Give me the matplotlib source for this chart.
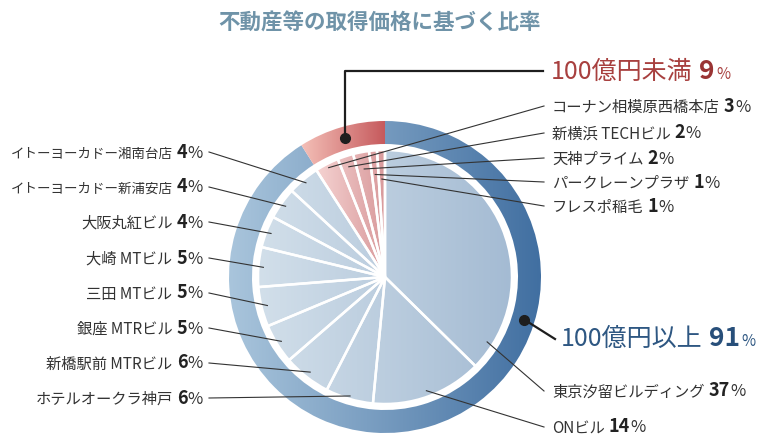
import numpy as np
import matplotlib
matplotlib.use('Agg')
import matplotlib.pyplot as plt
from matplotlib.colors import LinearSegmentedColormap

plt.rcParams['font.family'] = ['Noto Sans CJK JP', 'DejaVu Sans']

### data
title = '不動産等の取得価格に基づく比率'
group_names = ['100億円以上', '100億円未満']
group_pct = [91, 9]

big_names = ['東京汐留ビルディング', 'ONビル', 'ホテルオークラ神戸', '新橋駅前 MTRビル',
             '銀座 MTRビル', '三田 MTビル', '大崎 MTビル', '大阪丸紅ビル',
             'イトーヨーカドー新浦安店', 'イトーヨーカドー湘南台店']
big_pct = [37, 14, 6, 6, 5, 5, 5, 4, 4, 4]

small_names = ['コーナン相模原西橋本店', '新横浜 TECHビル', '天神プライム',
               'パークレーンプラザ', 'フレスポ稲毛']
small_pct = [3, 2, 2, 1, 1]

### layout (pixels, y down)
W, H = 766, 438
cx, cy = 385, 277
R_in, R_out, ring_w = 127, 156, 23

fig = plt.figure(figsize=(W / 100, H / 100), dpi=100)
ax = fig.add_axes([0, 0, 1, 1])
grad = np.linspace(0, 1, 256).reshape(1, -1)


def gradient_fill(wedges, c_left, c_right, x0, x1):
    cmap = LinearSegmentedColormap.from_list('g', [c_left, c_right])
    for w in wedges:
        w.set_facecolor('none')
        im = ax.imshow(grad, cmap=cmap, extent=(x0, x1, cy + R_out, cy - R_out),
                       aspect='auto', interpolation='bilinear', zorder=1)
        im.set_clip_path(w)


def anchor(w, frac, r):
    th = np.radians(w.theta1 + frac * (w.theta2 - w.theta1))
    return cx + r * np.cos(th), cy + r * np.sin(th)


# outer ring (clockwise from 12 o'clock on the flipped axis)
ring, _ = ax.pie(group_pct, radius=R_out, center=(cx, cy), startangle=-90,
                 counterclock=True, wedgeprops=dict(width=ring_w, linewidth=0, zorder=2))
gradient_fill([ring[0]], '#a9c5dc', '#416fa1', cx - R_out, cx + R_out)
x_red = cx + R_out * np.cos(np.radians(ring[1].theta1))
gradient_fill([ring[1]], '#f4c0b8', '#c65a5d', x_red, cx)

# inner pie
inner, _ = ax.pie(big_pct + small_pct, radius=R_in, center=(cx, cy), startangle=-90,
                  counterclock=True,
                  wedgeprops=dict(linewidth=1.8, edgecolor='white', zorder=2))
blue_w = inner[:len(big_pct)]
red_w = inner[len(big_pct):]
gradient_fill(blue_w, '#d2dfea', '#a4bbd3', cx - R_in, cx + R_in)
x_red_in = cx + R_in * np.cos(np.radians(red_w[0].theta1))
gradient_fill(red_w, '#f5d3d2', '#d99a9c', x_red_in, cx)

ax.set_aspect('auto')
ax.set_xlim(0, W)
ax.set_ylim(H, 0)
ax.axis('off')

renderer = fig.canvas.get_renderer()


def rich(x, y, parts, align='left', max_w=None):
    items = []
    total = 0
    for gap, s, size, weight, color in parts:
        t = ax.text(0, y, s, fontsize=size, fontweight=weight, color=color,
                    va='baseline', ha='left', zorder=5)
        w = gap + t.get_window_extent(renderer).width
        items.append([gap, t, w])
        total += w
    # squeeze the name (first part) when the line would run off the figure
    if max_w is not None and total > max_w:
        t0 = items[0][1]
        t0.set_fontsize(parts[0][2] * (items[0][2] - (total - max_w)) / items[0][2])
        new_w = t0.get_window_extent(renderer).width
        total += new_w - items[0][2]
        items[0][2] = new_w
    cur = x if align == 'left' else x - total
    for gap, t, w in items:
        t.set_x(cur + gap)
        cur += w


def label(x, yc, name, pct, align, max_w=None):
    rich(x, yc + 5.5, [(0, name, 11, 'normal', '#333333'),
                       (4, str(pct), 13, 'bold', '#222222'),
                       (0.5, '%', 12, 'normal', '#333333')], align, max_w)


line_kw = dict(color='#333333', lw=0.8, zorder=4)

# right-hand labels of the big slices
big_right_y = [391, 427]
big_frac = [0.91, 0.5]
for i, yc in enumerate(big_right_y):
    px, py = anchor(blue_w[i], big_frac[i], 121)
    ax.plot([px, 544], [py, yc], **line_kw)
    label(552, yc, big_names[i], big_pct[i], 'left')

# left-hand labels
left_y = [398, 363, 328, 293, 258, 222, 187, 152]
left_r = [124, 121, 122, 121, 122, 122, 122, 123]
for k, yc in enumerate(left_y):
    i = k + 2
    px, py = anchor(blue_w[i], 0.5, left_r[k])
    ax.plot([209, px], [yc, py], **line_kw)
    label(203, yc, big_names[i], big_pct[i], 'right', max_w=192)

# small (red) slices
small_y = [106, 133, 158, 182, 206]
small_r = [123, 116, 110, 103, 98]
for i, yc in enumerate(small_y):
    px, py = anchor(red_w[i], 0.5, small_r[i])
    ax.plot([px, 544], [py, yc], **line_kw)
    label(552, yc, small_names[i], small_pct[i], 'left')

# group callouts
dot_kw = dict(color='#1e1e1e', lw=1.6, zorder=6)
dx, dy = anchor(ring[1], 0.5, 145)
ax.plot([dx, dx, 543], [dy, 70.5, 70.5], **dot_kw)
ax.plot(dx, dy, 'o', color='#1e1e1e', ms=7, zorder=7)
red_txt = '#a8403f'
rich(551, 79, [(0, group_names[1], 18, 'normal', red_txt),
               (6, str(group_pct[1]), 19, 'bold', '#9a3434'),
               (2, '%', 11, 'normal', red_txt)])

bx, by = anchor(ring[0], 107 / 327.6, 145.5)
ax.plot([bx, 555], [by, 339], **dot_kw)
ax.plot(bx, by, 'o', color='#1e1e1e', ms=7, zorder=7)
blue_txt = '#2e5782'
rich(561, 346, [(0, group_names[0], 18, 'normal', blue_txt),
                (6, str(group_pct[0]), 19, 'bold', '#284f7a'),
                (2, '%', 11, 'normal', blue_txt)])

ax.text(380, 23, title, ha='center', va='center', fontsize=15.5,
        fontweight='bold', color='#6f93a8')

fig.savefig('out.png', dpi=100)
